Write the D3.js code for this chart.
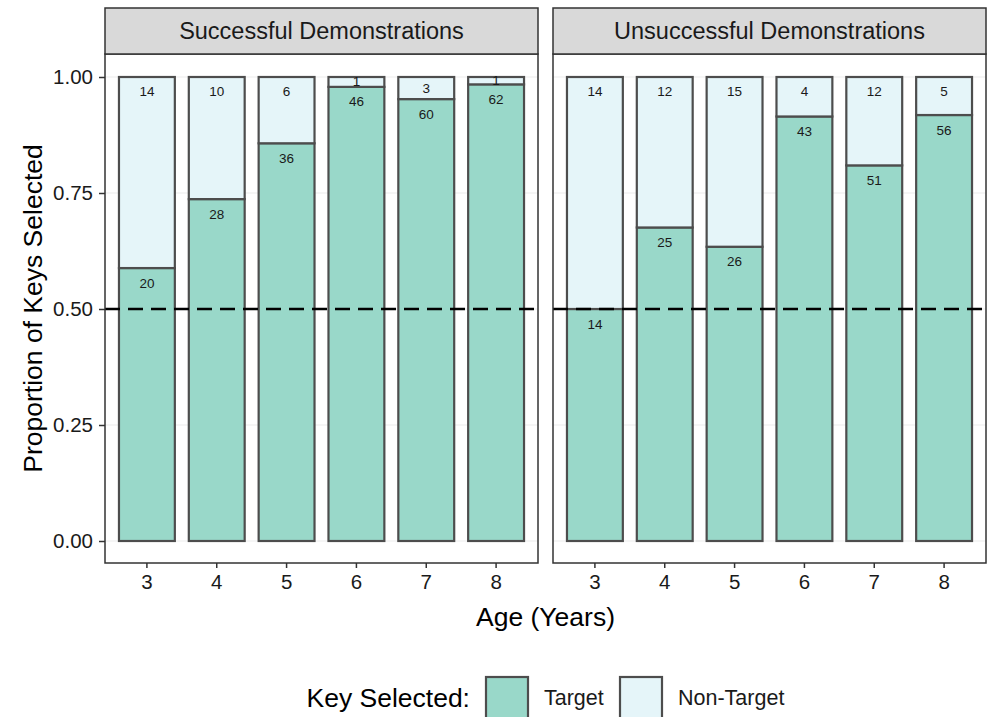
<!DOCTYPE html>
<html>
<head>
<meta charset="utf-8">
<script src="https://cdn.jsdelivr.net/npm/d3@7/dist/d3.min.js"></script>
<style>
  html, body { margin: 0; padding: 0; background: #ffffff; }
  svg { display: block; font-family: "Liberation Sans", Arial, sans-serif; }
</style>
</head>
<body>
<svg id="chart" width="989" height="717"></svg>
<script>
// Key choices by age, split by demonstration outcome
const ages = ["3", "4", "5", "6", "7", "8"];
const panelTitles = ["Successful Demonstrations", "Unsuccessful Demonstrations"];
const successfulTarget = [20, 28, 36, 46, 60, 62];
const successfulNonTarget = [14, 10, 6, 1, 3, 1];
const unsuccessfulTarget = [14, 25, 26, 43, 51, 56];
const unsuccessfulNonTarget = [14, 12, 15, 4, 12, 5];
const yTicks = [0, 0.25, 0.5, 0.75, 1];
const yTickLabels = ["0.00", "0.25", "0.50", "0.75", "1.00"];
const chanceLevel = 0.5;
const keyNames = ["Target", "Non-Target"];
const keyColors = ["#99d8c9", "#e5f5f9"];

const panelsData = [
  { title: panelTitles[0], target: successfulTarget, nonTarget: successfulNonTarget },
  { title: panelTitles[1], target: unsuccessfulTarget, nonTarget: unsuccessfulNonTarget }
];

const svg = d3.select("#chart");
const W = 989, H = 717;
svg.append("rect").attr("width", W).attr("height", H).attr("fill", "#ffffff");

// layout
const panelX = [[105, 538], [553, 986]];
const stripTop = 8, stripBottom = 54, panelBottom = 563;
const y = d3.scaleLinear().domain([0, 1]).range([541, 77]);
const stroke = "#4d4d4d";
const frame = "#333333";
const textCol = "#1a1a1a";

panelsData.forEach((pd, pi) => {
  const [x0, x1] = panelX[pi];
  const x = d3.scaleBand().domain(ages).range([x0, x1])
    .paddingInner(0.2).paddingOuter(0.2);
  const g = svg.append("g");

  // panel background + grid
  g.append("rect").attr("x", x0).attr("y", stripBottom)
    .attr("width", x1 - x0).attr("height", panelBottom - stripBottom)
    .attr("fill", "#ffffff");
  g.selectAll("line.grid").data(yTicks).join("line")
    .attr("class", "grid")
    .attr("x1", x0).attr("x2", x1)
    .attr("y1", d => y(d)).attr("y2", d => y(d))
    .attr("stroke", "#ebebeb").attr("stroke-width", 1.2);

  // stacked proportions
  const rows = ages.map((a, i) => {
    const total = pd.target[i] + pd.nonTarget[i];
    return { age: a, t: pd.target[i], n: pd.nonTarget[i], p: pd.target[i] / total };
  });

  // target segment (bottom)
  g.selectAll("rect.tgt").data(rows).join("rect")
    .attr("class", "tgt")
    .attr("x", d => x(d.age)).attr("width", x.bandwidth())
    .attr("y", d => y(d.p)).attr("height", d => y(0) - y(d.p))
    .attr("fill", keyColors[0]).attr("stroke", stroke).attr("stroke-width", 2.2);
  // non-target segment (top)
  g.selectAll("rect.non").data(rows).join("rect")
    .attr("class", "non")
    .attr("x", d => x(d.age)).attr("width", x.bandwidth())
    .attr("y", d => y(1)).attr("height", d => y(d.p) - y(1))
    .attr("fill", keyColors[1]).attr("stroke", stroke).attr("stroke-width", 2.2);

  // count labels
  g.selectAll("text.nlab").data(rows).join("text")
    .attr("class", "nlab")
    .attr("x", d => x(d.age) + x.bandwidth() / 2)
    .attr("y", d => y(1) + Math.min(14.5, (y(d.p) - y(1)) / 2))
    .attr("text-anchor", "middle").attr("dominant-baseline", "central")
    .attr("font-size", 13.5).attr("fill", textCol)
    .text(d => d.n);
  g.selectAll("text.tlab").data(rows).join("text")
    .attr("class", "tlab")
    .attr("x", d => x(d.age) + x.bandwidth() / 2)
    .attr("y", d => y(d.p) + 15)
    .attr("text-anchor", "middle").attr("dominant-baseline", "central")
    .attr("font-size", 13.5).attr("fill", textCol)
    .text(d => d.t);

  // chance reference line
  g.append("line")
    .attr("x1", x0).attr("x2", x1)
    .attr("y1", y(chanceLevel)).attr("y2", y(chanceLevel))
    .attr("stroke", "#000000").attr("stroke-width", 2.3)
    .attr("stroke-dasharray", "15,8");

  // panel border
  g.append("rect").attr("x", x0).attr("y", stripBottom)
    .attr("width", x1 - x0).attr("height", panelBottom - stripBottom)
    .attr("fill", "none").attr("stroke", frame).attr("stroke-width", 1.5);

  // strip
  g.append("rect").attr("x", x0).attr("y", stripTop)
    .attr("width", x1 - x0).attr("height", stripBottom - stripTop)
    .attr("fill", "#d9d9d9").attr("stroke", frame).attr("stroke-width", 1.5);
  g.append("text")
    .attr("x", (x0 + x1) / 2).attr("y", (stripTop + stripBottom) / 2)
    .attr("text-anchor", "middle").attr("dominant-baseline", "central")
    .attr("font-size", 23.5).attr("fill", textCol)
    .text(pd.title);

  // x axis
  const xAxis = svg.append("g")
    .attr("transform", `translate(0,${panelBottom})`)
    .call(d3.axisBottom(x).tickSize(5).tickPadding(6));
  xAxis.select(".domain").remove();
  xAxis.selectAll(".tick line").attr("stroke", frame).attr("stroke-width", 1.5);
  xAxis.selectAll(".tick text").attr("font-size", 20.5).attr("fill", textCol)
    .attr("font-family", "Liberation Sans, Arial, sans-serif");

  // y axis on the first panel only
  if (pi === 0) {
    const yAxis = svg.append("g")
      .attr("transform", `translate(${x0},0)`)
      .call(d3.axisLeft(y).tickValues(yTicks)
        .tickFormat((d, i) => yTickLabels[i]).tickSize(6).tickPadding(6));
    yAxis.select(".domain").remove();
    yAxis.selectAll(".tick line").attr("stroke", frame).attr("stroke-width", 1.5);
    yAxis.selectAll(".tick text").attr("font-size", 20.5).attr("fill", textCol)
      .attr("font-family", "Liberation Sans, Arial, sans-serif");
  }
});

// axis titles
svg.append("text")
  .attr("x", (panelX[0][0] + panelX[1][1]) / 2).attr("y", 617)
  .attr("text-anchor", "middle").attr("dominant-baseline", "central")
  .attr("font-size", 26.5).attr("fill", "#000")
  .text("Age (Years)");
svg.append("text")
  .attr("transform", `translate(33,${(stripBottom + panelBottom) / 2}) rotate(-90)`)
  .attr("text-anchor", "middle").attr("dominant-baseline", "central")
  .attr("font-size", 26.5).attr("fill", "#000")
  .text("Proportion of Keys Selected");

// legend
const legend = svg.append("g");
legend.append("text")
  .attr("x", 470).attr("y", 698)
  .attr("text-anchor", "end").attr("dominant-baseline", "central")
  .attr("font-size", 26.5).attr("fill", "#000")
  .text("Key Selected:");
const keyX = [486, 620];
keyNames.forEach((name, i) => {
  legend.append("rect")
    .attr("x", keyX[i]).attr("y", 677).attr("width", 42).attr("height", 42)
    .attr("fill", keyColors[i]).attr("stroke", stroke).attr("stroke-width", 2.2);
  legend.append("text")
    .attr("x", keyX[i] + 58).attr("y", 698)
    .attr("dominant-baseline", "central")
    .attr("font-size", 21.5).attr("fill", textCol)
    .text(name);
});
</script>
</body>
</html>
